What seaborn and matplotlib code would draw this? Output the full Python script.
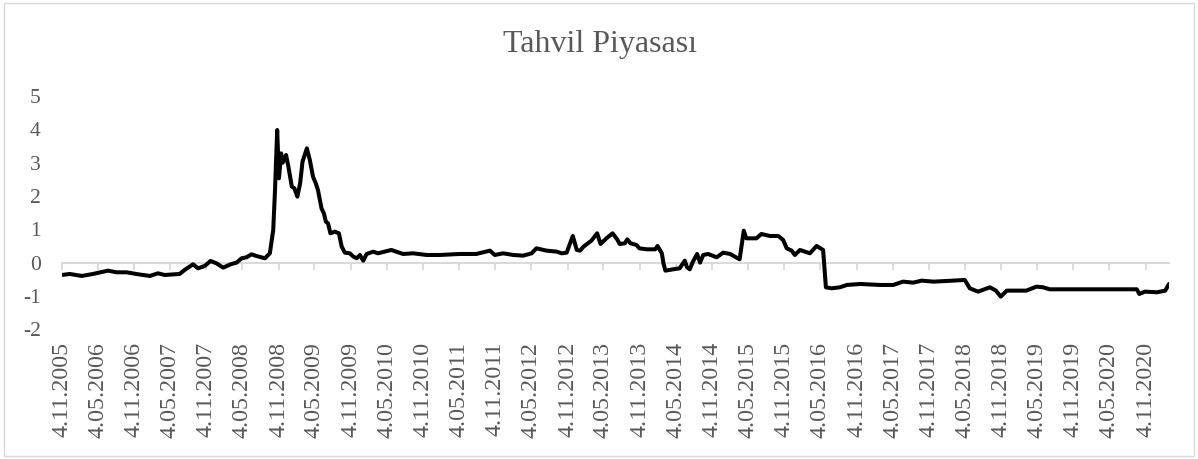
import pandas as pd
import matplotlib
matplotlib.use("Agg")
import matplotlib.pyplot as plt
import matplotlib.dates as mdates
from matplotlib.patches import Rectangle
import seaborn as sns

sns.set_style("white")
plt.rcParams['font.family'] = ['Liberation Serif', 'DejaVu Serif']

# Tahvil piyasasi serisi
tarihler = [
    "2005-11-04", "2005-12-15", "2006-02-14", "2006-04-11", "2006-06-26", "2006-08-08",
    "2006-09-28", "2006-11-26", "2007-01-24", "2007-03-05", "2007-04-08", "2007-06-23",
    "2007-07-18", "2007-08-30", "2007-09-24", "2007-10-28", "2007-11-26", "2007-12-26",
    "2008-01-29", "2008-03-11", "2008-04-06", "2008-05-01", "2008-05-26", "2008-06-20",
    "2008-07-15", "2008-08-27", "2008-09-21", "2008-10-08", "2008-10-17", "2008-10-28",
    "2008-11-06", "2008-11-17", "2008-11-25", "2008-12-12", "2008-12-23", "2009-01-10",
    "2009-01-23", "2009-02-07", "2009-02-21", "2009-03-05", "2009-03-27", "2009-04-11",
    "2009-04-27", "2009-05-11", "2009-05-22", "2009-06-09", "2009-06-21", "2009-07-01",
    "2009-07-12", "2009-07-24", "2009-08-15", "2009-09-05", "2009-09-19", "2009-10-05",
    "2009-10-30", "2009-11-17", "2009-12-04", "2009-12-20", "2010-01-06", "2010-01-23",
    "2010-02-26", "2010-03-21", "2010-05-28", "2010-07-26", "2010-09-15", "2010-11-22",
    "2011-01-29", "2011-05-08", "2011-07-31", "2011-10-08", "2011-11-02", "2011-12-14",
    "2012-02-03", "2012-03-24", "2012-05-06", "2012-05-30", "2012-07-20", "2012-09-10",
    "2012-10-05", "2012-10-30", "2012-11-30", "2012-12-20", "2013-01-06", "2013-01-23",
    "2013-03-04", "2013-04-02", "2013-04-19", "2013-05-19", "2013-06-19", "2013-07-12",
    "2013-07-25", "2013-08-20", "2013-09-01", "2013-09-18", "2013-10-18", "2013-11-01",
    "2013-12-08", "2014-01-20", "2014-02-01", "2014-02-23", "2014-03-03", "2014-03-13",
    "2014-04-21", "2014-05-24", "2014-06-19", "2014-06-30", "2014-07-14", "2014-07-30",
    "2014-08-20", "2014-09-04", "2014-09-20", "2014-10-15", "2014-11-27", "2014-12-30",
    "2015-02-03", "2015-03-23", "2015-04-13", "2015-04-26", "2015-06-16", "2015-07-11",
    "2015-08-23", "2015-10-04", "2015-10-29", "2015-11-16", "2015-12-11", "2015-12-27",
    "2016-01-22", "2016-03-12", "2016-04-15", "2016-05-18", "2016-06-01", "2016-06-30",
    "2016-08-11", "2016-09-15", "2016-11-21", "2017-03-01", "2017-05-07", "2017-06-26",
    "2017-08-16", "2017-09-28", "2017-11-26", "2018-02-03", "2018-05-04", "2018-05-29",
    "2018-07-10", "2018-09-08", "2018-10-08", "2018-11-02", "2018-12-02", "2019-03-11",
    "2019-05-01", "2019-06-04", "2019-07-07", "2020-09-19", "2020-10-02", "2020-10-31",
    "2020-12-29", "2021-02-10", "2021-03-01",
]
degerler = [
    -0.37, -0.34, -0.40, -0.34, -0.24, -0.29,
    -0.29, -0.35, -0.40, -0.32, -0.37, -0.34,
    -0.22, -0.05, -0.17, -0.10, 0.05, -0.02,
    -0.15, -0.04, 0.00, 0.13, 0.16, 0.25,
    0.20, 0.13, 0.28, 0.98, 2.18, 3.98,
    2.53, 3.28, 3.00, 3.23, 2.90, 2.28,
    2.23, 1.98, 2.38, 3.03, 3.43, 3.08,
    2.58, 2.38, 2.18, 1.63, 1.48, 1.23,
    1.18, 0.88, 0.93, 0.88, 0.48, 0.30,
    0.28, 0.18, 0.13, 0.23, 0.06, 0.26,
    0.33, 0.28, 0.38, 0.26, 0.28, 0.23,
    0.23, 0.26, 0.26, 0.36, 0.23, 0.28,
    0.23, 0.21, 0.28, 0.43, 0.36, 0.33,
    0.28, 0.30, 0.80, 0.38, 0.36, 0.48,
    0.66, 0.88, 0.56, 0.73, 0.88, 0.70,
    0.56, 0.58, 0.70, 0.58, 0.53, 0.43,
    0.40, 0.40, 0.50, 0.28, -0.02, -0.24,
    -0.20, -0.17, 0.06, -0.14, -0.20, 0.03,
    0.26, 0.00, 0.23, 0.26, 0.16, 0.30,
    0.26, 0.10, 0.96, 0.73, 0.73, 0.86,
    0.80, 0.80, 0.68, 0.43, 0.36, 0.23,
    0.38, 0.28, 0.50, 0.38, -0.74, -0.77,
    -0.74, -0.67, -0.64, -0.67, -0.67, -0.57,
    -0.60, -0.54, -0.57, -0.55, -0.52, -0.77,
    -0.87, -0.74, -0.84, -1.02, -0.84, -0.84,
    -0.72, -0.74, -0.80, -0.80, -0.94, -0.87,
    -0.89, -0.84, -0.64,
]

y_ticks = [-2, -1, 0, 1, 2, 3, 4, 5]

df = pd.DataFrame({"tarih": pd.to_datetime(tarihler), "deger": degerler})

gri = "#d9d9d9"
yazi = "#595959"

fig = plt.figure(figsize=(11.98, 4.59), dpi=100)
ax = fig.add_axes([0.0515, 0.2826, 0.9243, 0.5082])

sns.lineplot(data=df, x="tarih", y="deger", color="black", linewidth=2.9, ax=ax, zorder=3)

ax.set_xlim(df["tarih"].iloc[0], df["tarih"].iloc[-1])
ax.set_ylim(-2, 5)
ax.set_yticks(y_ticks)
ax.set_yticklabels([str(t) for t in y_ticks])

# 6 aylik tarih etiketleri
tick_dates = pd.date_range("2005-11-04", "2020-11-04", freq=pd.DateOffset(months=6))
ax.set_xticks(tick_dates)
ax.set_xticklabels([f"{d.day}.{d.month:02d}.{d.year}" for d in tick_dates], rotation=90)

ax.set_xlabel("")
ax.set_ylabel("")
for s in ax.spines.values():
    s.set_visible(False)
ax.tick_params(axis="x", length=0, pad=9, labelsize=17.3, labelcolor=yazi)
ax.tick_params(axis="y", length=0, pad=15, labelsize=15.5, labelcolor=yazi)
ax.grid(False)

# sifir cizgisi ve tik isaretleri
sec = ax.secondary_xaxis(2 / 7)
sec.set_xticks(mdates.date2num(tick_dates))
sec.tick_params(axis="x", direction="out", length=5, width=1.3, color=gri, labelbottom=False, labeltop=False)
for s in sec.spines.values():
    s.set_color(gri)
    s.set_linewidth(1.5)

fig.text(0.501, 0.902, "Tahvil Piyasası", ha="center", va="center", fontsize=23, color=yazi)

fig.patches.append(Rectangle((0.003, 0.006), 0.994, 0.988, transform=fig.transFigure,
                             fill=False, edgecolor=gri, linewidth=1))

fig.savefig("out.png", dpi=100)
